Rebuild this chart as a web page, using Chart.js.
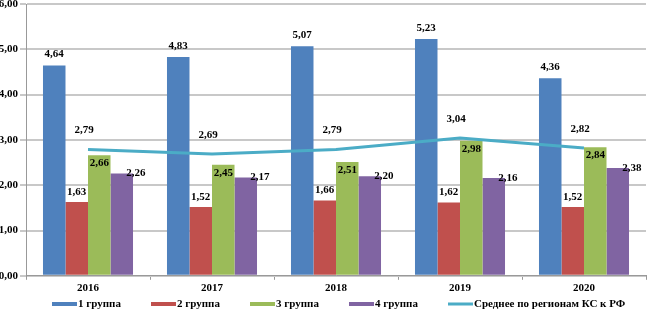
<!DOCTYPE html>
<html>
<head>
<meta charset="utf-8">
<script src="https://cdn.jsdelivr.net/npm/chart.js@4/dist/chart.umd.min.js"></script>
<style>
  html, body { margin: 0; padding: 0; background: #fff; }
  #wrap { width: 649px; height: 309px; position: relative; }
</style>
</head>
<body>
<div id="wrap"><canvas id="chart"></canvas></div>
<script>
// --- DATA ---
const years = ['2016', '2017', '2018', '2019', '2020'];
const group1 = [4.64, 4.83, 5.07, 5.23, 4.36];
const group2 = [1.63, 1.52, 1.66, 1.62, 1.52];
const group3 = [2.66, 2.45, 2.51, 2.98, 2.84];
const group4 = [2.26, 2.17, 2.20, 2.16, 2.38];
const avgRegions = [2.79, 2.69, 2.79, 3.04, 2.82];
const seriesNames = ['1 группа', '2 группа', '3 группа', '4 группа', 'Среднее по регионам КС к РФ'];

const FONT = 'Liberation Serif, Times New Roman, serif';
const fmt = v => v.toFixed(2).replace('.', ',');

// label offsets per dataset (dx, dy from bar top / point)
const labelOffsets = [
  { dx: 0, dy: -11 },
  { dx: 0, dy: -10 },
  { dx: 0, dy: 8 },
  { dx: 14, dy: 0 },
  { dx: -4, dy: -19 }
];

const valueLabels = {
  id: 'valueLabels',
  afterDatasetsDraw(chart) {
    const ctx = chart.ctx;
    ctx.save();
    ctx.font = 'bold 11px ' + FONT;
    ctx.fillStyle = '#000';
    ctx.textAlign = 'center';
    ctx.textBaseline = 'middle';
    chart.data.datasets.forEach((ds, i) => {
      const meta = chart.getDatasetMeta(i);
      const off = labelOffsets[i];
      meta.data.forEach((el, j) => {
        ctx.fillText(fmt(ds.data[j]), el.x + off.dx, el.y + off.dy);
      });
    });
    ctx.restore();
  }
};

// legend drawn by hand: evenly spaced row at the bottom
const bottomLegend = {
  id: 'bottomLegend',
  afterDraw(chart) {
    const ctx = chart.ctx;
    ctx.save();
    ctx.font = 'bold 11px ' + FONT;
    ctx.fillStyle = '#000';
    ctx.textBaseline = 'middle';
    const y = 304;
    chart.data.datasets.forEach((ds, i) => {
      const x = 52 + i * 99;
      ctx.fillStyle = ds.backgroundColor;
      if (ds.type === 'line') ctx.fillRect(x, y - 1.5, 25, 3);
      else ctx.fillRect(x, y - 2, 25, 4);
      ctx.fillStyle = '#000';
      ctx.fillText(ds.label, x + 26, y);
    });
    ctx.restore();
  }
};

const colors = ['#4f81bd', '#c0504d', '#9bbb59', '#8064a2'];
const barSets = [group1, group2, group3, group4].map((d, i) => ({
  type: 'bar',
  label: seriesNames[i],
  data: d,
  backgroundColor: colors[i],
  borderWidth: 0,
  order: 1,
  categoryPercentage: 0.726,
  barPercentage: 1.0
}));

new Chart(document.getElementById('chart'), {
  type: 'bar',
  data: {
    labels: years,
    datasets: [...barSets, {
      type: 'line',
      label: seriesNames[4],
      data: avgRegions,
      borderColor: '#4bacc6',
      backgroundColor: '#4bacc6',
      borderWidth: 3,
      pointRadius: 0,
      tension: 0,
      order: 0
    }]
  },
  options: {
    responsive: true,
    maintainAspectRatio: false,
    animation: false,
    layout: { padding: { top: 4, right: 3, left: 0, bottom: 12 } },
    plugins: {
      tooltip: { enabled: false },
      legend: { display: false }
    },
    scales: {
      x: {
        grid: { drawOnChartArea: false, drawTicks: true, tickLength: 4, color: '#999' },
        border: { color: '#999', width: 1 },
        ticks: { font: { family: FONT, size: 11, weight: 'bold' }, color: '#000', padding: 2 }
      },
      y: {
        min: 0, max: 6,
        afterFit: s => { s.width = 26; s.paddingTop = 0; s.paddingBottom = 0; },
        grid: { color: '#c8c8c8', lineWidth: 2, tickLength: 6 },
        border: { color: '#999', width: 1 },
        ticks: {
          stepSize: 1,
          font: { family: FONT, size: 11, weight: 'bold' },
          color: '#000',
          padding: 2,
          callback: v => fmt(v)
        }
      }
    }
  },
  plugins: [valueLabels, bottomLegend]
});
</script>
</body>
</html>
